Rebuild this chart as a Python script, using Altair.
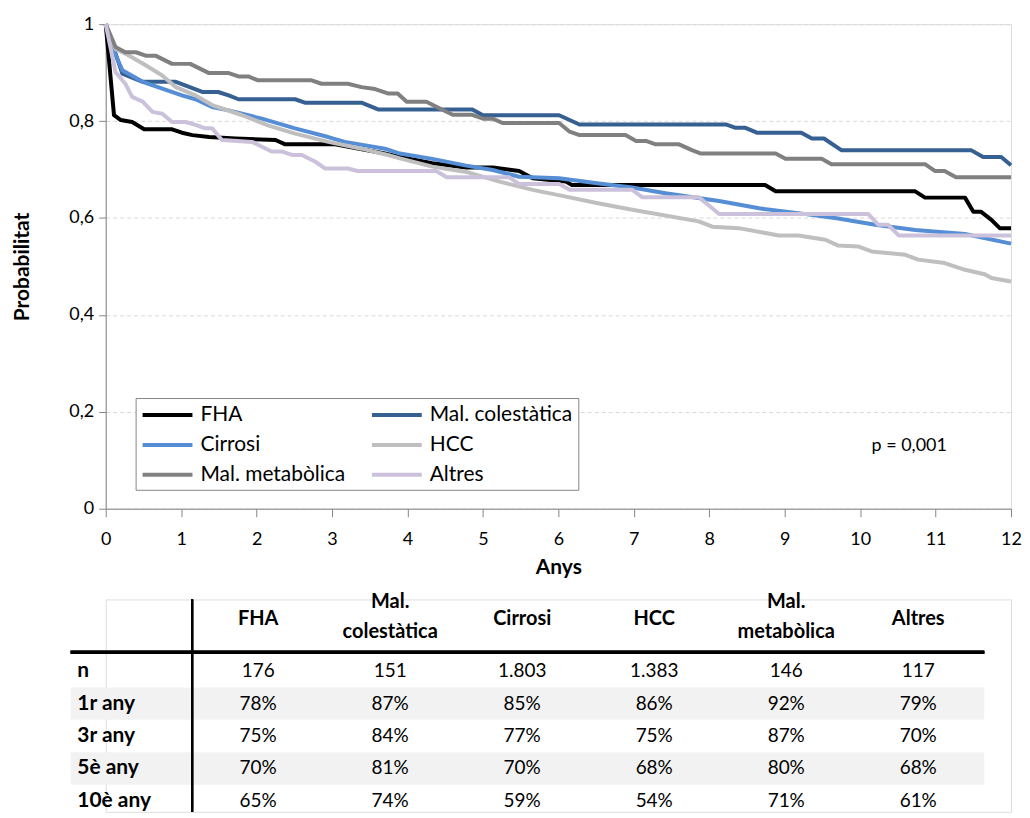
import altair as alt
import pandas as pd

# ---------------- data ----------------
GROUPS = ["FHA", "Mal. colestàtica", "Cirrosi", "HCC", "Mal. metabòlica", "Altres"]
COLORS = ["#000000", "#376092", "#558ED5", "#BFBFBF", "#808080", "#CCC1DA"]

# (years, probability)
FHA = [(0, 1.0), (0.11, 0.812), (0.20, 0.802), (0.35, 0.798), (0.51, 0.783), (0.88, 0.783),
       (1.01, 0.776), (1.15, 0.771), (1.37, 0.767), (1.72, 0.764), (2.25, 0.761), (2.38, 0.752),
       (3.04, 0.752), (3.70, 0.733), (3.90, 0.726), (4.33, 0.713), (4.78, 0.704), (5.13, 0.704),
       (5.48, 0.697), (5.66, 0.682), (6.10, 0.675), (6.18, 0.668), (8.74, 0.668), (8.88, 0.655),
       (10.73, 0.655), (10.86, 0.642), (11.39, 0.642), (11.50, 0.613), (11.60, 0.613),
       (11.74, 0.596), (11.85, 0.579), (12.0, 0.579)]
MAL_COL = [(0, 1.0), (0.22, 0.898), (0.49, 0.881), (0.93, 0.881), (1.28, 0.860), (1.49, 0.860),
           (1.63, 0.853), (1.76, 0.845), (2.51, 0.845), (2.64, 0.838), (3.39, 0.838), (3.61, 0.824),
           (4.86, 0.824), (5.00, 0.812), (6.01, 0.812), (6.28, 0.793), (8.22, 0.793), (8.35, 0.786),
           (8.48, 0.786), (8.63, 0.776), (9.22, 0.776), (9.36, 0.764), (9.52, 0.764), (9.75, 0.740),
           (11.47, 0.740), (11.63, 0.726), (11.87, 0.726), (12.0, 0.709)]
CIRROSI = [(0, 1.0), (0.13, 0.936), (0.22, 0.905), (0.49, 0.881), (0.75, 0.867), (1.01, 0.853),
           (1.19, 0.845), (1.41, 0.829), (1.63, 0.822), (2.07, 0.805), (2.51, 0.785), (2.95, 0.767),
           (3.17, 0.757), (3.70, 0.743), (3.90, 0.733), (4.33, 0.722), (4.78, 0.708), (5.13, 0.699),
           (5.48, 0.685), (6.01, 0.682), (6.54, 0.671), (6.98, 0.663), (7.42, 0.651), (8.13, 0.635),
           (8.66, 0.620), (9.18, 0.610), (9.71, 0.599), (10.20, 0.586), (10.73, 0.575),
           (11.39, 0.567), (12.0, 0.547)]
HCC = [(0, 1.0), (0.13, 0.949), (0.30, 0.936), (0.53, 0.915), (0.75, 0.894), (0.93, 0.870),
       (1.19, 0.853), (1.41, 0.833), (1.81, 0.812), (2.15, 0.791), (2.51, 0.774), (2.95, 0.757),
       (3.39, 0.743), (3.74, 0.730), (3.90, 0.723), (4.33, 0.706), (4.78, 0.695), (5.22, 0.675),
       (5.66, 0.658), (6.10, 0.644), (6.54, 0.630), (6.98, 0.617), (7.86, 0.593), (8.04, 0.582),
       (8.39, 0.579), (8.92, 0.564), (9.18, 0.564), (9.54, 0.555), (9.71, 0.543), (9.98, 0.541),
       (10.15, 0.531), (10.60, 0.524), (10.77, 0.514), (11.12, 0.507), (11.39, 0.493),
       (11.65, 0.484), (11.74, 0.476), (12.0, 0.469)]
MAL_MET = [(0, 1.0), (0.13, 0.953), (0.26, 0.942), (0.40, 0.942), (0.53, 0.935), (0.66, 0.935),
           (0.88, 0.918), (1.12, 0.918), (1.37, 0.899), (1.63, 0.899), (1.76, 0.892), (1.89, 0.892),
           (2.02, 0.884), (2.73, 0.884), (2.86, 0.877), (3.21, 0.877), (3.39, 0.870), (3.57, 0.866),
           (3.74, 0.857), (3.87, 0.857), (3.99, 0.840), (4.25, 0.840), (4.43, 0.826), (4.60, 0.813),
           (4.86, 0.813), (5.00, 0.805), (5.13, 0.805), (5.26, 0.796), (6.01, 0.796), (6.15, 0.778),
           (6.28, 0.771), (6.89, 0.771), (7.03, 0.759), (7.16, 0.759), (7.29, 0.752), (7.60, 0.752),
           (7.77, 0.740), (7.89, 0.733), (8.88, 0.733), (9.01, 0.722), (9.49, 0.722), (9.62, 0.711),
           (10.86, 0.711), (10.99, 0.697), (11.12, 0.697), (11.27, 0.684), (12.0, 0.684)]
ALTRES = [(0, 1.0), (0.13, 0.901), (0.26, 0.877), (0.35, 0.850), (0.49, 0.840), (0.62, 0.819),
          (0.75, 0.815), (0.88, 0.798), (1.06, 0.798), (1.19, 0.792), (1.32, 0.785), (1.41, 0.785),
          (1.54, 0.761), (1.94, 0.757), (2.07, 0.747), (2.20, 0.737), (2.34, 0.737), (2.47, 0.730),
          (2.60, 0.730), (2.78, 0.716), (2.91, 0.702), (3.21, 0.702), (3.34, 0.697), (4.38, 0.697),
          (4.52, 0.684), (5.35, 0.684), (5.48, 0.670), (6.01, 0.670), (6.15, 0.658), (6.98, 0.658),
          (7.11, 0.643), (7.86, 0.643), (8.04, 0.620), (8.13, 0.608), (10.11, 0.608),
          (10.24, 0.586), (10.37, 0.586), (10.51, 0.564), (12.0, 0.564)]
SERIES = [FHA, MAL_COL, CIRROSI, HCC, MAL_MET, ALTRES]

X_TICKS = [0, 0.5, 1, 1.5, 2, 2.5, 3, 3.5, 4, 4.5, 5, 5.5, 6, 6.5, 7, 7.5, 8, 8.5,
           9, 9.5, 10, 10.5, 11, 11.5, 12]
Y_TICKS = [0, 0.2, 0.4, 0.6, 0.8, 1.0]

P_TEXT = ["p = 0,001"]
P_T = [10.65]
P_P = [0.13]

ROW_LABELS = ["n", "1r any", "3r any", "5è any", "10è any"]
N_VALUES = ["176", "151", "1.803", "1.383", "146", "117"]
SURV_1 = [78, 87, 85, 86, 92, 79]
SURV_3 = [75, 84, 77, 75, 87, 70]
SURV_5 = [70, 81, 70, 68, 80, 68]
SURV_10 = [65, 74, 59, 54, 71, 61]

FONT = "Lato"

# ---------------- survival curves ----------------
recs = []
for gi, (g, s) in enumerate(zip(GROUPS, SERIES)):
    for i, (t, p) in enumerate(s):
        recs.append({"grup": g, "gi": gi, "i": i, "t": t, "p": p})
lines_df = pd.DataFrame(recs)

x_axis = alt.Axis(values=X_TICKS,
                  labelExpr="datum.value % 1 == 0 ? format(datum.value, 'd') : ''",
                  labelFlush=False, grid=False, tickSize=8, labelPadding=14, labelFontSize=18,
                  title="Anys", titleFontSize=21, titleFontWeight="bold", titlePadding=8,
                  domainColor="#868686", tickColor="#868686", labelColor="#000000",
                  titleColor="#000000")
y_axis = alt.Axis(values=Y_TICKS, labelExpr="replace(format(datum.value, '.1~f'), '.', ',')",
                  title="Probabilitat", titleFontSize=21, titleFontWeight="bold", titlePadding=36,
                  labelFontSize=18, labelPadding=5, tickSize=7, grid=True, gridDash=[4, 3],
                  gridColor="#D9D9D9", domainColor="#868686", tickColor="#868686",
                  labelColor="#000000", titleColor="#000000")

legend = alt.Legend(orient="none", legendX=30, legendY=375, columns=2, direction="horizontal",
                    title=None, symbolType="M-2.5,0H2.5", symbolSize=400, symbolStrokeWidth=4,
                    labelFontSize=21, labelColor="#000000", labelFont=FONT,
                    strokeColor="#868686", fillColor="#FFFFFF", padding=5,
                    rowPadding=8, columnPadding=18, symbolOffset=15, labelOffset=21)

lines = alt.Chart(lines_df).mark_line(strokeWidth=4, strokeJoin="round").encode(
    x=alt.X("t:Q", scale=alt.Scale(domain=[0, 12], nice=False, zero=False), axis=x_axis),
    y=alt.Y("p:Q", scale=alt.Scale(domain=[0, 1], nice=False), axis=y_axis),
    color=alt.Color("grup:N", scale=alt.Scale(domain=GROUPS, range=COLORS), legend=legend),
    order=alt.Order("i:Q"),
)

annot_df = pd.DataFrame({"t": P_T, "p": P_P, "txt": P_TEXT})
annot = alt.Chart(annot_df).mark_text(fontSize=18, align="center", baseline="middle",
                                      color="#000000", font=FONT).encode(
    x="t:Q", y="p:Q", text="txt:N")

top = alt.layer(lines, annot).properties(width=908, height=486)

# ---------------- table ----------------
xs = alt.Scale(domain=[-0.155, 6.703], nice=False, zero=False)
ys = alt.Scale(domain=[-2.215, 4.338], nice=False, zero=False, reverse=True)

head_df = pd.DataFrame({"k": list(range(1, 7)),
                        "head": [g.replace(". ", ".\n") for g in GROUPS]})
head_df["multi"] = head_df["head"].str.contains("\n")
row_df = pd.DataFrame({"r": list(range(len(ROW_LABELS))), "label": ROW_LABELS})
row_df["shade"] = row_df["r"] % 2 == 1

cells = []
for k in range(6):
    cells.append({"k": k + 1, "r": 0, "txt": N_VALUES[k]})
    for r, arr in enumerate([SURV_1, SURV_3, SURV_5, SURV_10], start=1):
        cells.append({"k": k + 1, "r": r, "txt": f"{arr[k]}%"})
cells_df = pd.DataFrame(cells)

bands = alt.Chart(row_df).transform_filter("datum.shade").transform_calculate(
    r0="datum.r - 0.5", r1="datum.r + 0.5").mark_rect(color="#F2F2F2").encode(
    x=alt.XDatum(-0.42, scale=xs, axis=None),
    x2=alt.X2Datum(6.5),
    y=alt.Y("r0:Q", scale=ys, axis=None),
    y2="r1:Q",
)

vline = alt.Chart(row_df).mark_rule(color="#000000", strokeWidth=2).encode(
    x=alt.XDatum(0.5),
    y=alt.YDatum(-2.215),
    y2=alt.Y2Datum(4.338),
)

hline = alt.Chart(row_df).mark_rule(color="#000000", strokeWidth=3).encode(
    x=alt.XDatum(-0.42),
    x2=alt.X2Datum(6.5),
    y=alt.YDatum(-0.585),
)

head_style = dict(fontSize=20, fontWeight="bold", align="center", baseline="middle",
                  lineBreak="\n", lineHeight=30, font=FONT, color="#000000")
heads1 = alt.Chart(head_df).transform_filter("!datum.multi").mark_text(**head_style).encode(
    x="k:Q", y=alt.YDatum(-1.6), text="head:N")
heads2 = alt.Chart(head_df).transform_filter("datum.multi").mark_text(**head_style).encode(
    x="k:Q", y=alt.YDatum(-2.123), text="head:N")

labels = alt.Chart(row_df).mark_text(fontSize=21, fontWeight="bold", align="left",
                                     baseline="middle", font=FONT, color="#000000").encode(
    x=alt.XDatum(-0.37), y="r:Q", text="label:N")

values = alt.Chart(cells_df).mark_text(fontSize=19, align="center", baseline="middle",
                                       font=FONT, color="#000000").encode(
    x="k:Q", y="r:Q", text="txt:N")

table = alt.layer(bands, vline, hline, heads1, heads2, labels, values).properties(
    width=908, height=213)

chart = alt.vconcat(top, table, spacing=13).properties(
    padding={"left": 3, "top": 5, "right": 0, "bottom": 0}
).configure_view(stroke=None, strokeWidth=0).configure(font=FONT)

chart.save("out.html", embed_options={"renderer": "svg", "actions": False})
